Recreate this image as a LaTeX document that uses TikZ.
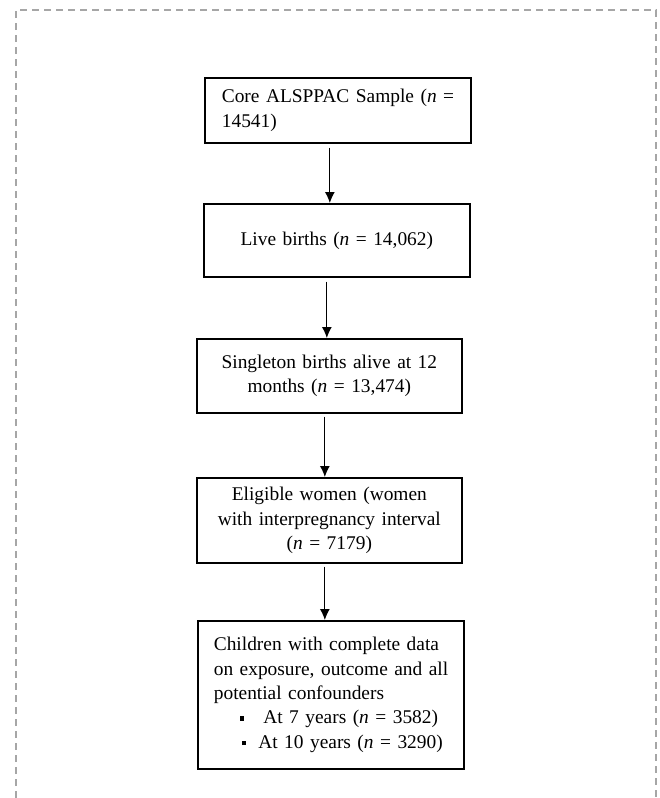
\documentclass[tikz,border=0pt]{standalone}
\usepackage{fontspec}
\setmainfont{Liberation Serif}
\usetikzlibrary{arrows.meta}
\definecolor{bordergrey}{HTML}{A6A6A6}
\newcommand{\boxfont}{\fontsize{19.4}{24.3}\selectfont}
\newcommand{\sqbullet}{\rule[3pt]{4.5pt}{4.5pt}}
\begin{document}
\begin{tikzpicture}[x=1pt,y=-1pt,
  flowbox/.style={draw, line width=1.7pt, anchor=north west, inner ysep=0pt, font=\boxfont},
  arr/.style={line width=1.1pt, -{Latex[length=11pt,width=10pt]}},
  frame/.style={draw=bordergrey, line width=1.5pt, dash pattern=on 7pt off 5pt}]
\useasboundingbox (0,0) rectangle (659,798);
\draw[frame] (16,798) -- (16,10) -- (656,10) -- (656,798);

\node[flowbox, inner xsep=17pt, text width=232pt, minimum height=65pt, align=left] (b1) at (204,77)
  {\mbox{Core ALSPPAC Sample (\textit{n} =}\\14541)};
\node[flowbox, inner xsep=10pt, text width=246pt, minimum height=73pt, align=center] (b2) at (203,203)
  {Live births (\textit{n} = 14,062)};
\node[flowbox, inner xsep=10pt, text width=245pt, minimum height=74pt, align=center] (b3) at (196,338)
  {Singleton births alive at 12\\months (\textit{n} = 13,474)};
\node[flowbox, inner xsep=10pt, text width=245pt, minimum height=85pt, align=center] (b4) at (196,477)
  {Eligible women (women\\with interpregnancy interval\\(\textit{n} = 7179)};
\node[flowbox, inner xsep=16pt, text width=234pt, minimum height=148pt, align=left] (b5) at (197,620)
  {Children with complete data\\\mbox{on exposure, outcome and all}\\potential confounders\\
   \hspace*{26pt}\sqbullet\hspace*{19pt}At 7 years (\textit{n} = 3582)\\
   \hspace*{28pt}\sqbullet\hspace*{12pt}At 10 years (\textit{n} = 3290)};

\draw[arr] ([xshift=-8pt,yshift=-4pt]b1.south) -- ([xshift=-8pt]b1.south |- b2.north);
\draw[arr] ([xshift=-10pt,yshift=-4pt]b2.south) -- ([xshift=-10pt]b2.south |- b3.north);
\draw[arr] ([xshift=-4.5pt,yshift=-3pt]b3.south) -- ([xshift=-4.5pt]b3.south |- b4.north);
\draw[arr] ([xshift=-4.5pt,yshift=-3pt]b4.south) -- ([xshift=-4.5pt]b4.south |- b5.north);
\end{tikzpicture}
\end{document}
